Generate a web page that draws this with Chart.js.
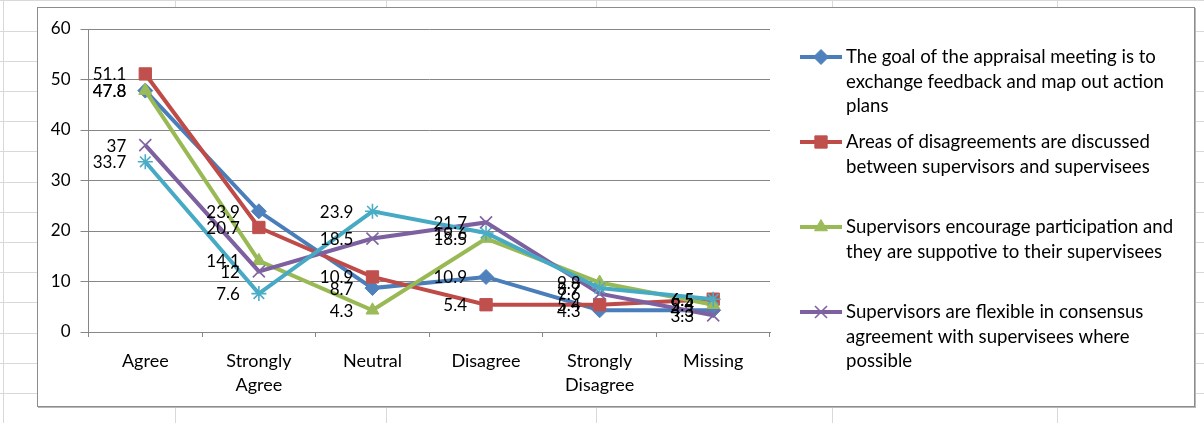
<!DOCTYPE html>
<html>
<head>
<meta charset="utf-8">
<script src="https://cdn.jsdelivr.net/npm/chart.js@4"></script>
<style>
  html, body { margin: 0; padding: 0; background: #fff; }
  body { width: 1204px; height: 423px; position: relative; overflow: hidden; }
  #sheet { position: absolute; left: 0; top: 0; width: 1204px; height: 423px; }
  .hl { position: absolute; left: 0; width: 1204px; height: 1px; background: #d9d9d9; }
  .vl { position: absolute; top: 0; height: 423px; width: 1px; background: #d9d9d9; }
  #box { position: absolute; left: 37px; top: 7px; width: 1156px; height: 398px;
         border: 1px solid #8c8c8c; background: #fff; box-shadow: 1px 1px 0 #b8b8b8; }
  #box canvas { position: absolute; left: 0; top: 0; }
</style>
</head>
<body>
<div id="sheet"></div>
<div id="box"><canvas id="c" width="1156" height="398"></canvas></div>
<script>
// Response categories along the x axis
const categories = ['Agree', ['Strongly', 'Agree'], 'Neutral', 'Disagree', ['Strongly', 'Disagree'], 'Missing'];

// Percentages per statement
const goalFeedback      = [47.8, 23.9, 8.7, 10.9, 4.3, 4.3];
const disagreements     = [51.1, 20.7, 10.9, 5.4, 5.4, 6.5];
const participation     = [47.8, 14.1, 4.3, 18.5, 9.8, 5.4];
const flexibleConsensus = [37, 12, 18.5, 21.7, 7.6, 3.3];
const fifthStatement    = [33.7, 7.6, 23.9, 19.6, 8.7, 6.5];

// Y axis ticks
const yTicks = [0, 10, 20, 30, 40, 50, 60];

// Legend text, already wrapped into lines
const legendLines = [
  ['The goal of the appraisal meeting is to', 'exchange feedback and map out action', 'plans'],
  ['Areas of disagreements are discussed', 'between supervisors and supervisees'],
  ['Supervisors encourage participation and', 'they are suppotive to their supervisees'],
  ['Supervisors are flexible in consensus', 'agreement with supervisees where', 'possible']
];

// Spreadsheet gridlines behind the chart object
(function drawSheet() {
  const sheet = document.getElementById('sheet');
  for (let k = -1; k < 14; k++) {
    const d = document.createElement('div');
    d.className = 'hl';
    d.style.top = Math.round(30.5 + 30.2 * k) + 'px';
    sheet.appendChild(d);
  }
  [3, 175, 386, 596, 832, 1057].forEach(x => {
    const d = document.createElement('div');
    d.className = 'vl';
    d.style.left = x + 'px';
    sheet.appendChild(d);
  });
})();

const FONT = 'Lato, "Open Sans", sans-serif';

const series = [
  { label: legendLines[0].join(' '), data: goalFeedback, line: '#4A7EBB', mark: '#4F81BD', style: 'rectRot', r: 7.5, bw: 1 },
  { label: legendLines[1].join(' '), data: disagreements, line: '#BE4B48', mark: '#C0504D', style: 'rect', r: 8.7, bw: 1 },
  { label: legendLines[2].join(' '), data: participation, line: '#98B954', mark: '#9BBB59', style: 'triangle', r: 7.5, bw: 1 },
  { label: legendLines[3].join(' '), data: flexibleConsensus, line: '#7D60A0', mark: '#8064A2', style: 'crossRot', r: 8.5, bw: 1.6 },
  { label: 'Series 5', data: fifthStatement, line: '#46AAC5', mark: '#4BACC6', style: 'star', r: 7.5, bw: 1.6 }
];

// Value labels placed to the left of each point
const valueLabels = {
  id: 'valueLabels',
  afterDatasetsDraw(chart) {
    const ctx = chart.ctx;
    ctx.save();
    ctx.font = '17px ' + FONT;
    ctx.fillStyle = '#000';
    ctx.textAlign = 'right';
    ctx.textBaseline = 'middle';
    chart.data.datasets.forEach((ds, i) => {
      chart.getDatasetMeta(i).data.forEach((pt, j) => {
        ctx.fillText(String(ds.data[j]), pt.x - 19, pt.y + 1);
      });
    });
    ctx.restore();
  }
};

// Legend with wrapped entries to the right of the plot
const wrappedLegend = {
  id: 'wrappedLegend',
  afterDraw(chart) {
    const ctx = chart.ctx;
    const x0 = 762, x1 = 804, tx = 808;
    let y = 49;
    ctx.save();
    legendLines.forEach((lines, i) => {
      const s = series[i];
      ctx.strokeStyle = s.line;
      ctx.lineWidth = 4;
      ctx.beginPath();
      ctx.moveTo(x0, y);
      ctx.lineTo(x1, y);
      ctx.stroke();
      ctx.fillStyle = s.mark;
      ctx.strokeStyle = s.mark;
      ctx.lineWidth = s.bw;
      Chart.helpers.drawPoint(ctx, { pointStyle: s.style, radius: s.r, borderWidth: s.bw, rotation: 0 }, (x0 + x1) / 2, y);
      ctx.fillStyle = '#000';
      ctx.font = '18.6px ' + FONT;
      ctx.textAlign = 'left';
      ctx.textBaseline = 'middle';
      lines.forEach((t, k) => ctx.fillText(t, tx, y + k * 24.5));
      y += 85;
    });
    ctx.restore();
  }
};

new Chart(document.getElementById('c'), {
  type: 'line',
  data: {
    labels: categories,
    datasets: series.map((s, i) => ({
      label: s.label,
      data: s.data,
      borderColor: s.line,
      backgroundColor: s.mark,
      borderWidth: 4,
      pointStyle: s.style,
      pointRadius: s.r,
      pointHoverRadius: s.r,
      pointBackgroundColor: s.mark,
      pointBorderColor: s.mark,
      pointBorderWidth: s.bw,
      tension: 0,
      order: series.length - i
    }))
  },
  options: {
    responsive: false,
    devicePixelRatio: 1,
    animation: false,
    layout: { padding: { left: 0, top: 21, right: 424, bottom: 0 } },
    plugins: { legend: { display: false }, tooltip: { enabled: false } },
    scales: {
      x: {
        offset: true,
        afterFit(scale) { scale.height = 74; },
        grid: { offset: true, drawOnChartArea: false, drawTicks: true, tickLength: 5, color: '#868686', lineWidth: 1 },
        border: { color: '#868686', width: 1 },
        ticks: { color: '#000', font: { family: FONT, size: 18, lineHeight: 24 / 18 }, padding: 12, maxRotation: 0, autoSkip: false }
      },
      y: {
        min: 0,
        max: 60,
        afterFit(scale) { scale.width = 50.5; },
        afterBuildTicks(scale) { scale.ticks = yTicks.map(v => ({ value: v })); },
        grid: { color: '#868686', lineWidth: 1, tickLength: 8 },
        border: { color: '#868686', width: 1 },
        ticks: { color: '#000', font: { family: FONT, size: 17 }, padding: 10 }
      }
    }
  },
  plugins: [valueLabels, wrappedLegend]
});
</script>
</body>
</html>
